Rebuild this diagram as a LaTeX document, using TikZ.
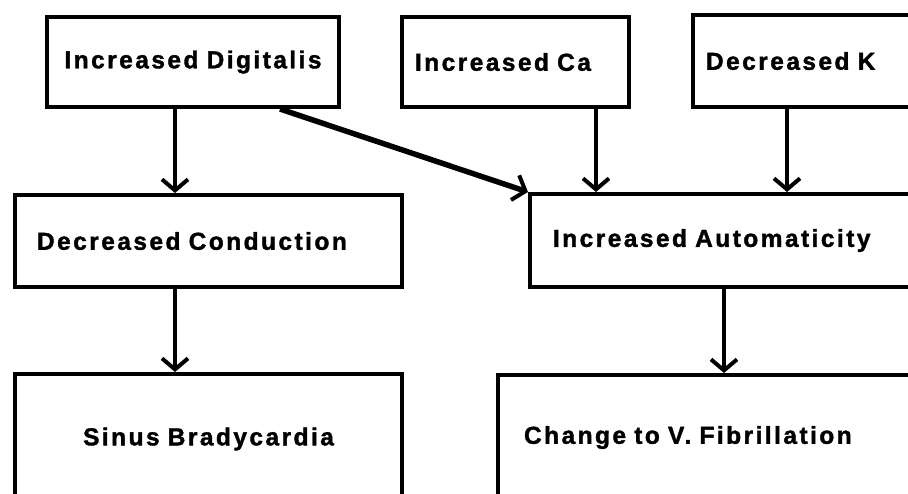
\documentclass[tikz,border=0pt]{standalone}
\usepackage{fontspec}
\setmainfont{Liberation Sans}[LetterSpace=10,BoldFeatures={FakeBold=1.5}]
\usepackage{tikz}
\usetikzlibrary{arrows.meta,positioning}

\tikzset{
  box/.style={draw,line width=4pt,rectangle,anchor=north west,inner ysep=0pt,
    font=\fontsize{24.5}{28}\selectfont\bfseries},
  arr/.style={line width=3.5pt,-{Straight Barb[length=11pt,width=26pt,line width=4pt]}}
}

\begin{document}
\begin{tikzpicture}[x=1pt,y=-1pt]
\useasboundingbox (0,0) rectangle (908,493);

% top row
\node[box,minimum height=90pt,inner xsep=10pt,text width=272pt,align=center] (dig) at (45,15) {Increased Digitalis};
\node[box,minimum height=90pt,inner xsep=13pt,text width=201pt,align=left] (ca) at (400,15) {Increased Ca};
\node[box,minimum height=92pt,inner xsep=13pt,text width=214pt,align=left] (k) at (691,13) {Decreased K};

% middle row
\node[box,minimum height=92pt,inner xsep=22pt,text width=343pt,align=left] (cond) at (13,193) {Decreased Conduction};
\node[box,minimum height=93pt,inner xsep=23pt,text width=354pt,align=left] (auto) at (528,192) {Increased Automaticity};

% bottom row
\node[box,minimum height=130pt,inner xsep=10pt,text width=367pt,align=center] (sinus) at (13,372) {Sinus Bradycardia};
\node[box,minimum height=125pt,inner xsep=26pt,text width=368pt,align=left] (fib) at (496,373) {Change to V. Fibrillation};

\draw[arr] ([xshift=130pt]dig.south west) -- ([xshift=162pt]cond.north west);
\draw[arr,line width=5.5pt] ([xshift=235pt]dig.south west) -- (auto.north west);
\draw[arr] ([xshift=196pt]ca.south west) -- ([xshift=68pt]auto.north west);
\draw[arr] ([xshift=96pt]k.south west) -- ([xshift=259pt]auto.north west);
\draw[arr] ([xshift=162pt]cond.south west) -- ([xshift=162pt]sinus.north west);
\draw[arr] ([xshift=196pt]auto.south west) -- ([xshift=228pt]fib.north west);
\end{tikzpicture}
\end{document}
